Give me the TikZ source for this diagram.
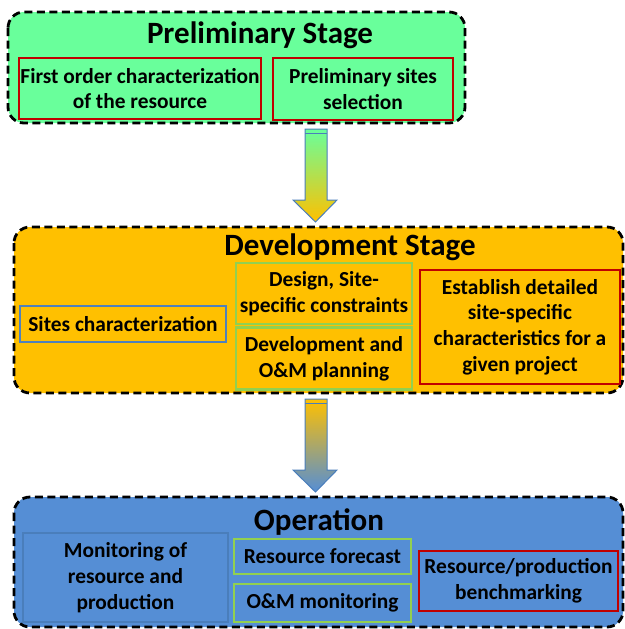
\documentclass[tikz,border=0pt]{standalone}
\usepackage{fontspec}
\setmainfont{Carlito}
\usepackage{xcolor}
\usepackage{tikz}
\usetikzlibrary{calc}

\definecolor{prelimgreen}{HTML}{69FF9B}
\definecolor{devorange}{HTML}{FFC000}
\definecolor{opblue}{HTML}{558ED5}
\definecolor{boxred}{HTML}{C00000}
\definecolor{boxgreen}{HTML}{92D050}
\definecolor{boxblue}{HTML}{4F81BD}
\definecolor{arrowline}{HTML}{4A7EBB}

\begin{document}
\begin{tikzpicture}[x=1pt,y=-1pt,font=\bfseries\fontsize{21.4}{25.7}\selectfont,
  stage/.style={draw=black,line width=2.8pt,dash pattern=on 8pt off 4.5pt,rounded corners=16pt},
  title/.style={font=\bfseries\fontsize{31}{36}\selectfont},
  box/.style={draw,line width=2.5pt,align=center,inner sep=0pt},
  redbox/.style={box,draw=boxred},
  greenbox/.style={box,draw=boxgreen},
  bluebox/.style={box,draw=boxblue}]
  \useasboundingbox (0,0) rectangle (624,629);

  % preliminary stage
  \fill[prelimgreen] (8,12) [rounded corners=16pt] rectangle (465,123);
  \draw[stage] (8,12) rectangle (465,123);
  \node[title] (prelim) at (260,35) {Preliminary Stage};
  \node[redbox,minimum width=242,minimum height=61] (firstorder) at (140,88.5)
    {First order characterization\\of the resource};
  \node[redbox,minimum width=180,minimum height=62] (selection) at (363,89)
    {Preliminary sites\\selection};

  % arrow 1
  \shade[top color=prelimgreen,bottom color=devorange]
    (305,129) -- (327,129) -- (327,200) -- (337,200) -- (315.5,222)
    -- (293,200) -- (305,200) -- cycle;
  \draw[arrowline,line width=1pt,line join=miter]
    (305,129) -- (327,129) -- (327,200) -- (337,200) -- (315.5,222)
    -- (293,200) -- (305,200) -- cycle;
  \draw[arrowline,line width=1pt] (305,133.5) -- (327,133.5);

  % development stage
  \fill[devorange] (14,227) [rounded corners=16pt] rectangle (623,393);
  \draw[stage] (14,227) rectangle (623,393);
  \node[title] (dev) at (350,247) {Development Stage};
  \node[bluebox,minimum width=206,minimum height=36] (sitechar) at (123,324)
    {Sites characterization};
  \node[greenbox,minimum width=176,minimum height=61] (design) at (324,293.5)
    {Design, Site-\\specific constraints};
  \node[greenbox,minimum width=176,minimum height=62] (planning) at (324,358.5)
    {Development and\\O\&M planning};
  \node[redbox,minimum width=200,minimum height=114] (establish) at (520,327)
    {Establish detailed\\site-specific\\characteristics for a\\given project};

  % arrow 2
  \shade[top color=devorange,bottom color=opblue]
    (305,399) -- (327,399) -- (327,470) -- (337,470) -- (315.5,492)
    -- (293,470) -- (305,470) -- cycle;
  \draw[arrowline,line width=1pt,line join=miter]
    (305,399) -- (327,399) -- (327,470) -- (337,470) -- (315.5,492)
    -- (293,470) -- (305,470) -- cycle;
  \draw[arrowline,line width=1pt] (305,403.5) -- (327,403.5);

  % operation
  \fill[opblue] (14,497) [rounded corners=16pt] rectangle (623,627);
  \draw[stage] (14,497) rectangle (623,627);
  \node[title] (op) at (319,522) {Operation};
  \node[box,draw=arrowline,line width=1.5pt,minimum width=205,minimum height=89] (monitoring) at (125.5,577.5)
    {Monitoring of\\resource and\\production};
  \node[greenbox,minimum width=177,minimum height=35] (forecast) at (322.5,556.5)
    {Resource forecast};
  \node[greenbox,minimum width=177,minimum height=38] (ommon) at (322.5,603)
    {O\&M monitoring};
  \node[redbox,minimum width=199,minimum height=60] (benchmark) at (518.5,581)
    {Resource/production\\benchmarking};
\end{tikzpicture}
\end{document}
